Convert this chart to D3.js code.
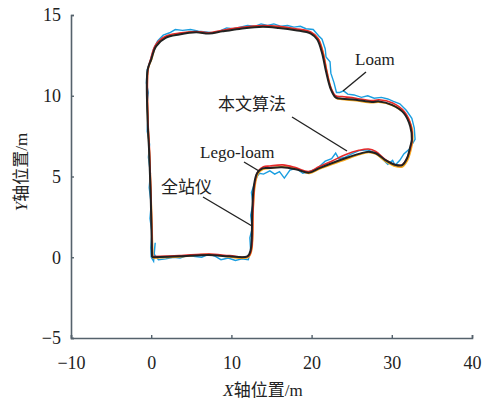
<!DOCTYPE html>
<html>
<head>
<meta charset="utf-8">
<script src="https://cdn.jsdelivr.net/npm/d3@7"></script>
<style>
  body { margin: 0; background: #fff; }
  #vis { width: 492px; height: 400px; }
  text { font-family: "Liberation Serif", "Times New Roman", "DejaVu Serif", "Noto Sans CJK SC", serif; }
</style>
</head>
<body>
<div id="vis"></div>
<script>
// Tick values
const xTicks = [-10, 0, 10, 20, 30, 40];
const yTicks = [-5, 0, 5, 10, 15];

// 全站仪 (reference trajectory)
const totalStation = [
  [0.1,0.0],[3.5,0.06],[7.2,0.14],[9.7,0.06],[12.0,0.06],[12.4,0.45],[12.6,2.9],[12.8,4.4],
  [13.2,5.2],[13.9,5.5],[14.7,5.52],[16.3,5.57],[18.0,5.45],[19.7,5.24],[20.9,5.5],[22.5,5.82],
  [24.2,6.13],[25.9,6.4],[27.1,6.54],[28.0,6.44],[29.2,6.02],[30.5,5.71],[31.3,5.71],[31.9,6.13],
  [32.3,6.85],[32.5,7.3],[32.3,8.1],[31.5,8.93],[30.0,9.44],[28.4,9.65],[27.5,9.61],[25.5,9.75],
  [23.8,9.81],[23.0,9.9],[22.4,10.4],[21.8,11.5],[21.3,12.65],[20.7,13.48],[19.9,13.85],[18.0,14.06],
  [15.9,14.2],[13.9,14.27],[11.0,14.14],[8.9,13.99],[7.2,13.85],[5.6,13.93],[3.5,13.79],[1.8,13.58],
  [0.6,13.06],[0.0,12.24],[-0.45,11.6],[-0.45,8.5],[-0.25,6.46],[-0.04,3.35],[0.1,0.0]
];

// 本文算法
const ours = [
  [0.15,0.05],[3.5,0.1],[7.2,0.2],[9.8,0.1],[12.1,0.05],[12.5,0.5],[12.7,2.9],[12.9,4.5],
  [13.3,5.3],[14.0,5.6],[14.8,5.65],[16.4,5.72],[18.0,5.55],[19.6,5.3],[20.9,5.6],[22.5,5.95],
  [24.2,6.35],[25.9,6.62],[27.1,6.7],[28.0,6.55],[29.2,6.05],[30.5,5.72],[31.3,5.72],[31.95,6.2],
  [32.4,6.9],[32.55,7.3],[32.4,8.15],[31.6,9.0],[30.1,9.55],[28.4,9.75],[27.5,9.7],[25.5,9.85],
  [23.8,9.95],[23.0,10.0],[22.4,10.5],[21.9,11.5],[21.4,12.7],[20.8,13.55],[19.9,13.95],[18.0,14.15],
  [15.9,14.3],[13.9,14.35],[11.0,14.22],[8.9,14.06],[7.2,13.9],[5.6,13.98],[3.5,13.88],[1.8,13.68],
  [0.55,13.15],[-0.05,12.3],[-0.4,11.6],[-0.4,8.5],[-0.2,6.5],[0.0,3.3],[0.15,0.05]
];

// Lego-loam
const legoLoam = [
  [0.2,-0.05],[3.5,0.02],[7.2,0.18],[9.7,0.02],[12.1,0.0],[12.5,0.4],[12.7,2.9],[12.9,4.3],
  [13.3,5.15],[13.95,5.45],[14.7,5.5],[16.3,5.6],[18.0,5.5],[19.7,5.2],[20.9,5.45],[22.5,5.75],
  [24.2,6.05],[25.9,6.35],[27.1,6.5],[28.0,6.4],[29.2,5.95],[30.5,5.62],[31.3,5.6],[32.0,6.05],
  [32.45,6.8],[32.6,7.3],[32.45,8.1],[31.6,8.9],[30.1,9.4],[28.4,9.6],[27.5,9.57],[25.5,9.7],
  [23.8,9.78],[23.1,9.85],[22.5,10.35],[21.9,11.5],[21.45,12.65],[20.85,13.5],[19.95,13.9],[18.0,14.1],
  [15.9,14.25],[13.9,14.3],[11.0,14.18],[8.9,14.02],[7.2,13.88],[5.6,13.95],[3.5,13.83],[1.8,13.62],
  [0.6,13.1],[0.05,12.27],[-0.4,11.62],[-0.42,8.5],[-0.22,6.45],[0.0,3.35],[0.2,-0.05]
];

// Loam (noisy)
const loam = [
  [0.0,0.0],[0.3,-0.25],[0.5,0.9],[0.35,0.2],[0.9,-0.15],[1.8,-0.1],[2.8,0.0],[3.6,-0.05],
  [4.5,0.1],[5.5,0.05],[6.3,0.0],[7.2,0.2],[8.0,0.05],[8.7,-0.15],[9.6,-0.05],[10.5,-0.2],
  [11.3,-0.1],[12.1,-0.15],[12.4,0.4],[12.3,1.2],[12.6,1.8],[12.4,2.6],[12.7,3.3],[12.5,4.0],
  [12.9,4.6],[13.2,5.0],[13.5,5.2],[14.0,5.15],[14.8,5.35],[15.4,5.15],[16.0,5.3],[16.6,4.9],
  [17.3,5.4],[18.1,5.5],[18.9,5.2],[19.7,5.3],[20.7,5.5],[21.7,5.95],[22.5,6.1],[23.0,6.45],
  [23.4,6.1],[24.2,6.2],[25.0,6.4],[25.9,6.6],[27.0,6.65],[28.0,6.45],[28.8,6.1],[29.5,5.75],
  [30.1,6.0],[30.4,5.7],[31.0,6.0],[31.5,6.4],[32.2,6.7],[32.9,7.3],[32.8,8.0],[32.5,8.6],
  [31.8,9.1],[31.0,9.5],[30.2,9.65],[29.5,9.8],[28.7,9.9],[27.8,9.85],[27.0,10.0],[26.2,9.9],
  [25.3,10.05],[24.5,10.1],[24.0,10.3],[23.5,10.2],[23.1,10.2],[22.8,10.8],[22.4,11.4],[22.3,12.1],
  [21.8,12.4],[21.7,12.9],[21.3,13.5],[20.9,13.7],[20.2,14.1],[19.3,14.15],[18.6,14.3],[17.8,14.25],
  [17.0,14.35],[16.2,14.3],[15.3,14.45],[14.5,14.35],[13.7,14.45],[12.9,14.3],[12.0,14.35],[11.1,14.25],
  [10.2,14.15],[9.4,14.2],[8.5,14.0],[7.6,13.9],[6.8,13.95],[5.9,14.0],[4.9,14.1],[3.9,14.05],
  [3.0,14.1],[2.3,13.9],[1.5,13.75],[0.8,13.4],[0.3,12.9],[-0.1,12.2],[-0.5,11.6],[-0.6,10.8],
  [-0.35,10.2],[-0.55,9.4],[-0.4,8.6],[-0.5,7.8],[-0.2,7.0],[-0.35,6.2],[-0.1,5.2],[-0.25,4.3],
  [0.0,3.3],[-0.15,2.4],[0.1,1.5],[-0.05,0.6],[0.0,0.0]
];

const width = 492, height = 400;
const axisColor = "#55626c";
const serif = "'Liberation Serif', 'Times New Roman', 'DejaVu Serif', serif";

const svg = d3.select("#vis").append("svg")
  .attr("width", width)
  .attr("height", height);

// Escalas
const x = d3.scaleLinear().domain([-10, 40]).range([71, 472]);
const y = d3.scaleLinear().domain([-5, 15]).range([338, 15]);

// Eixos
const gx = svg.append("g")
  .attr("transform", `translate(0, ${y(-5)})`)
  .call(d3.axisBottom(x).tickValues(xTicks).tickSize(-3).tickPadding(18)
    .tickFormat(d => d < 0 ? "\u2212" + Math.abs(d) : d));

const gy = svg.append("g")
  .attr("transform", `translate(${x(-10)}, 0)`)
  .call(d3.axisLeft(y).tickValues(yTicks).tickSize(-3).tickPadding(10)
    .tickFormat(d => d < 0 ? "\u2212" + Math.abs(d) : d));

[gx, gy].forEach(g => {
  g.attr("font-family", null);
  g.select(".domain").attr("stroke", axisColor).attr("stroke-width", 1.6);
  g.selectAll(".tick line").attr("stroke", axisColor).attr("stroke-width", 1.4);
  g.selectAll(".tick text")
    .attr("fill", "#222")
    .style("font-family", serif)
    .style("font-size", "18px");
});

// Trajetórias
const smooth = d3.line().x(d => x(d[0])).y(d => y(d[1])).curve(d3.curveCatmullRom.alpha(0.5));
const jagged = d3.line().x(d => x(d[0])).y(d => y(d[1]));

svg.append("path").datum(loam)
  .attr("fill", "none").attr("stroke", "#1a9ee0").attr("stroke-width", 1.4)
  .attr("d", jagged);
svg.append("path").datum(legoLoam)
  .attr("fill", "none").attr("stroke", "#f7a81b").attr("stroke-width", 1.8)
  .attr("d", smooth);
svg.append("path").datum(ours)
  .attr("fill", "none").attr("stroke", "#e62a2a").attr("stroke-width", 1.6)
  .attr("d", smooth);
svg.append("path").datum(totalStation)
  .attr("fill", "none").attr("stroke", "#222").attr("stroke-width", 2)
  .attr("d", smooth);

// Anotações
const notes = [
  { text: "Loam", tx: 355, ty: 65, line: [[366, 72], [343, 91]] },
  { text: "本文算法", tx: 218, ty: 110, line: [[292, 117], [347, 151]] },
  { text: "Lego-loam", tx: 200, ty: 158, line: [[244, 162], [259, 171]] },
  { text: "全站仪", tx: 161, ty: 193, line: [[203, 197], [252, 226]] }
];

notes.forEach(n => {
  svg.append("line")
    .attr("x1", n.line[0][0]).attr("y1", n.line[0][1])
    .attr("x2", n.line[1][0]).attr("y2", n.line[1][1])
    .attr("stroke", "#222").attr("stroke-width", 1.4);
  svg.append("text")
    .attr("x", n.tx).attr("y", n.ty)
    .attr("fill", "#222")
    .style("font-size", "17px")
    .text(n.text);
});

// Títulos dos eixos
const xt = svg.append("text")
  .attr("x", 263).attr("y", 396)
  .attr("text-anchor", "middle")
  .attr("fill", "#222")
  .style("font-size", "17px");
xt.append("tspan").style("font-style", "italic").text("X");
xt.append("tspan").text("轴位置/m");

const yt = svg.append("text")
  .attr("transform", "translate(27, 172) rotate(-90)")
  .attr("text-anchor", "middle")
  .attr("fill", "#222")
  .style("font-size", "17px");
yt.append("tspan").style("font-style", "italic").text("Y");
yt.append("tspan").text("轴位置/m");
</script>
</body>
</html>
